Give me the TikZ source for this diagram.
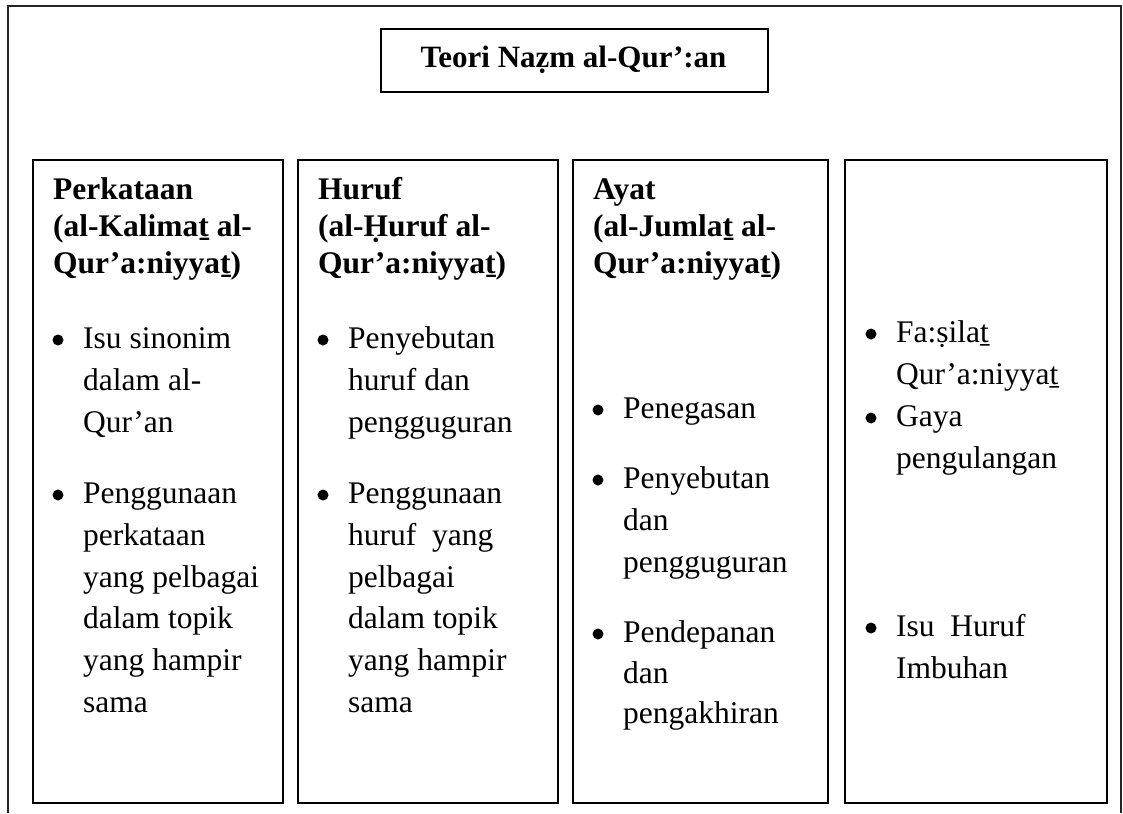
\documentclass[tikz,border=0pt]{standalone}
\usepackage{fontspec}
\setmainfont{Liberation Serif}
\begin{document}
\begin{tikzpicture}[x=1pt,y=-1pt]
\tikzset{
  frameline/.style={line width=1.4pt, draw=black!85},
  colbox/.style={draw, line width=1.6pt, anchor=north west, inner sep=0pt},
  txt/.style={anchor=base west, inner sep=0pt, font=\fontsize{31.5}{37}\selectfont},
  hd/.style={anchor=base west, inner sep=0pt, font=\fontsize{31.5}{37}\selectfont\bfseries},
  bul/.style={circle, fill=black, inner sep=0pt, minimum size=11pt}
}
\useasboundingbox (0,0) rectangle (1123,813);
% outer frame (open at bottom)
\coordinate (fbl) at (8,813);
\coordinate (ftl) at (8,6);
\coordinate (ftr) at (1121,6);
\coordinate (fbr) at (1121,813);
\draw[frameline] (fbl) -- (ftl) -- (ftr) -- (fbr);
% title
\node[colbox, minimum width=387pt, minimum height=63pt] (title) at (380,28) {};
\node[anchor=base, inner sep=0pt, font=\fontsize{31}{37}\selectfont\bfseries] (titletext) at (573.5,68) {Teori Naẓm al-Qur’:an};
% column boxes
\node[colbox, minimum width=250pt, minimum height=643pt] (c1) at (32,159) {};
\node[colbox, minimum width=260pt, minimum height=643pt] (c2) at (297,159) {};
\node[colbox, minimum width=255pt, minimum height=643pt] (c3) at (572,159) {};
\node[colbox, minimum width=262pt, minimum height=643pt] (c4) at (844,159) {};
% column 1
\node[hd] (c1h1) at (53,199) {Perkataan};
\node[hd] (c1h2) at (53,236) {(al-Kalimaṯ al-};
\node[hd] (c1h3) at (53,273) {Qur’a:niyyaṯ)};
\node[bul] (c1b1) at (58,340) {};
\node[txt] (c1a1) at (83,348) {Isu sinonim};
\node[txt] (c1a2) at (83,390) {dalam al-};
\node[txt] (c1a3) at (83,432) {Qur’an};
\node[bul] (c1b2) at (58,495) {};
\node[txt] (c1d1) at (83,503) {Penggunaan};
\node[txt] (c1d2) at (83,545) {perkataan};
\node[txt] (c1d3) at (83,587) {yang pelbagai};
\node[txt] (c1d4) at (83,628) {dalam topik};
\node[txt] (c1d5) at (83,670) {yang hampir};
\node[txt] (c1d6) at (83,712) {sama};
% column 2
\node[hd] (c2h1) at (318,199) {Huruf};
\node[hd] (c2h2) at (318,236) {(al-Ḥuruf al-};
\node[hd] (c2h3) at (318,273) {Qur’a:niyyaṯ)};
\node[bul] (c2b1) at (323,340) {};
\node[txt] (c2a1) at (348,348) {Penyebutan};
\node[txt] (c2a2) at (348,390) {huruf dan};
\node[txt] (c2a3) at (348,432) {pengguguran};
\node[bul] (c2b2) at (323,495) {};
\node[txt] (c2d1) at (348,503) {Penggunaan};
\node[txt] (c2d2) at (348,545) {huruf\ \ yang};
\node[txt] (c2d3) at (348,587) {pelbagai};
\node[txt] (c2d4) at (348,628) {dalam topik};
\node[txt] (c2d5) at (348,670) {yang hampir};
\node[txt] (c2d6) at (348,712) {sama};
% column 3
\node[hd] (c3h1) at (593,199) {Ayat};
\node[hd] (c3h2) at (593,236) {(al-Jumlaṯ al-};
\node[hd] (c3h3) at (593,273) {Qur’a:niyyaṯ)};
\node[bul] (c3b1) at (598,410) {};
\node[txt] (c3a1) at (623,418) {Penegasan};
\node[bul] (c3b2) at (598,480) {};
\node[txt] (c3d1) at (623,488) {Penyebutan};
\node[txt] (c3d2) at (623,530) {dan};
\node[txt] (c3d3) at (623,572) {pengguguran};
\node[bul] (c3b3) at (598,634) {};
\node[txt] (c3e1) at (623,642) {Pendepanan};
\node[txt] (c3e2) at (623,683) {dan};
\node[txt] (c3e3) at (623,723) {pengakhiran};
% column 4
\node[bul] (c4b1) at (871,334) {};
\node[txt] (c4a1) at (896,342) {Fa:ṣilaṯ};
\node[txt] (c4a2) at (896,384) {Qur’a:niyyaṯ};
\node[bul] (c4b2) at (871,418) {};
\node[txt] (c4d1) at (896,426) {Gaya};
\node[txt] (c4d2) at (896,468) {pengulangan};
\node[bul] (c4b3) at (871,628) {};
\node[txt] (c4e1) at (896,636) {Isu\ \ Huruf};
\node[txt] (c4e2) at (896,678) {Imbuhan};
\end{tikzpicture}
\end{document}
